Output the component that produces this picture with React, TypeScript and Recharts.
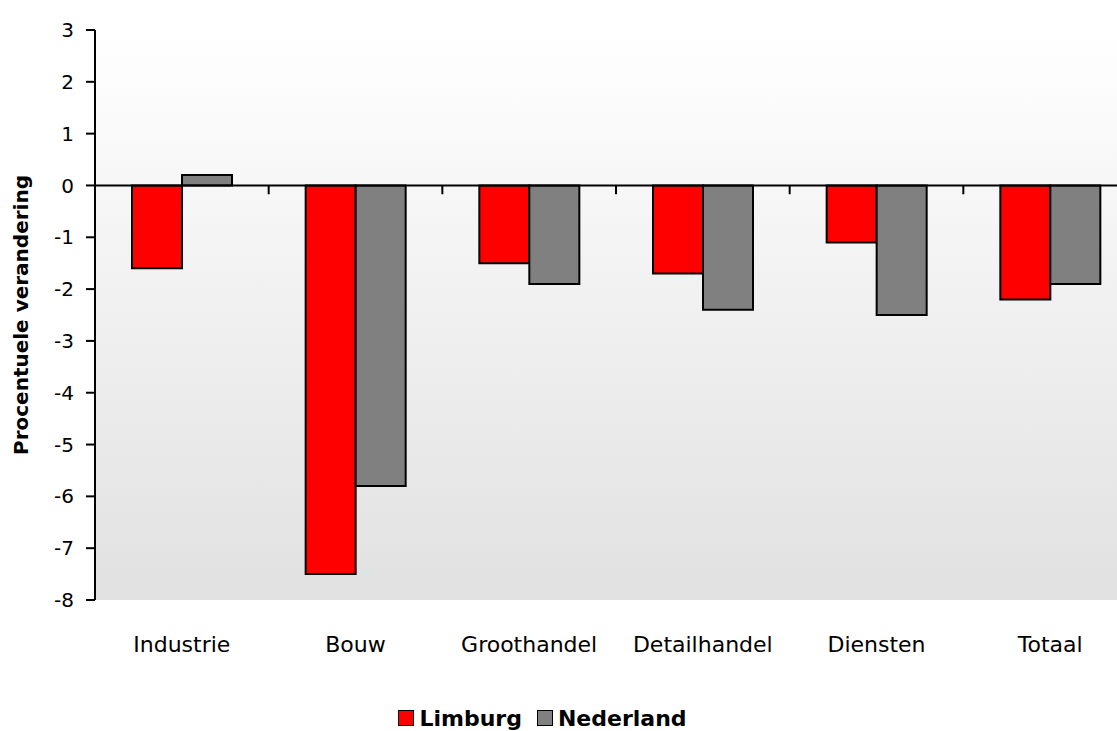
import React from 'react';
import { BarChart, Bar, XAxis, YAxis, CartesianGrid, ReferenceLine, Legend } from 'recharts';

const categories = ['Industrie', 'Bouw', 'Groothandel', 'Detailhandel', 'Diensten', 'Totaal'];
const limburg = [-1.6, -7.5, -1.5, -1.7, -1.1, -2.2];
const nederland = [0.2, -5.8, -1.9, -2.4, -2.5, -1.9];
const yTicks = [-8, -7, -6, -5, -4, -3, -2, -1, 0, 1, 2, 3];

const data = categories.map((name, i) => ({
  name,
  Limburg: limburg[i],
  Nederland: nederland[i],
}));

const FONT = '"DejaVu Sans", Verdana, sans-serif';

const series = [
  { key: 'Limburg', color: '#ff0000' },
  { key: 'Nederland', color: '#808080' },
];

// small tick marks on the zero line, at the start of every category but the first
const boundaryCats = categories.slice(1);

const renderLegend = () => (
  <div
    style={{
      width: 1069,
      height: 26,
      display: 'flex',
      justifyContent: 'center',
      alignItems: 'center',
      fontFamily: FONT,
      fontWeight: 'bold',
      fontSize: 22,
      color: '#000',
    }}
  >
    {series.map((s, i) => (
      <div key={s.key} style={{ display: 'flex', alignItems: 'center', marginLeft: i === 0 ? 0 : 15 }}>
        <span
          style={{
            display: 'inline-block',
            width: 14,
            height: 14,
            background: s.color,
            border: '1.5px solid #000',
            marginRight: 5,
          }}
        />
        <span>{s.key}</span>
      </div>
    ))}
  </div>
);

const YLabel = ({ viewBox }: any) => (
  <text
    x={viewBox.x + 20}
    y={viewBox.y + viewBox.height / 2}
    transform={`rotate(-90, ${viewBox.x + 20}, ${viewBox.y + viewBox.height / 2})`}
    textAnchor="middle"
    fontFamily={FONT}
    fontWeight="bold"
    fontSize={20}
    fill="#000"
  >
    Procentuele verandering
  </text>
);

const App = () => {
  return (
    <div style={{ position: 'fixed', top: 8, left: 8, width: 1109, height: 723, overflow: 'hidden', background: '#fff' }}>
      <BarChart
        width={1129}
        height={723}
        data={data}
        margin={{ top: 22, right: 0, left: 0, bottom: 0 }}
        barSize={50}
        barGap={0}
      >
        <defs>
          <linearGradient id="plotBg" x1="0" y1="0" x2="0" y2="1">
            <stop offset="0%" stopColor="#ffffff" />
            <stop offset="100%" stopColor="#e1e1e1" />
          </linearGradient>
        </defs>
        <CartesianGrid horizontal={false} vertical={false} fill="url(#plotBg)" />
        <XAxis
          dataKey="name"
          height={105}
          axisLine={false}
          tickLine={false}
          tickSize={0}
          tickMargin={36}
          interval={0}
          tick={{ fontSize: 22, fill: '#000', fontFamily: FONT }}
        />
        <YAxis
          width={87}
          domain={[-8, 3]}
          ticks={yTicks}
          interval={0}
          allowDataOverflow
          axisLine={{ stroke: '#000', strokeWidth: 2 }}
          tickLine={{ stroke: '#000', strokeWidth: 2 }}
          tickSize={9}
          tickMargin={12}
          tick={{ fontSize: 20, fill: '#000', fontFamily: FONT }}
          label={{ content: YLabel }}
        />
        {series.map((s) => (
          <Bar
            key={s.key}
            dataKey={s.key}
            fill={s.color}
            stroke="#000"
            strokeWidth={2}
            isAnimationActive={false}
          />
        ))}
        <ReferenceLine y={0} stroke="#000" strokeWidth={2} />
        {boundaryCats.map((c) => (
          <ReferenceLine
            key={c}
            position="start"
            segment={[
              { x: c, y: 0 },
              { x: c, y: -0.17 },
            ]}
            stroke="#000"
            strokeWidth={2}
          />
        ))}
        <Legend verticalAlign="bottom" content={renderLegend} wrapperStyle={{ left: 0, width: 1069 }} />
      </BarChart>
    </div>
  );
};

export default App;
